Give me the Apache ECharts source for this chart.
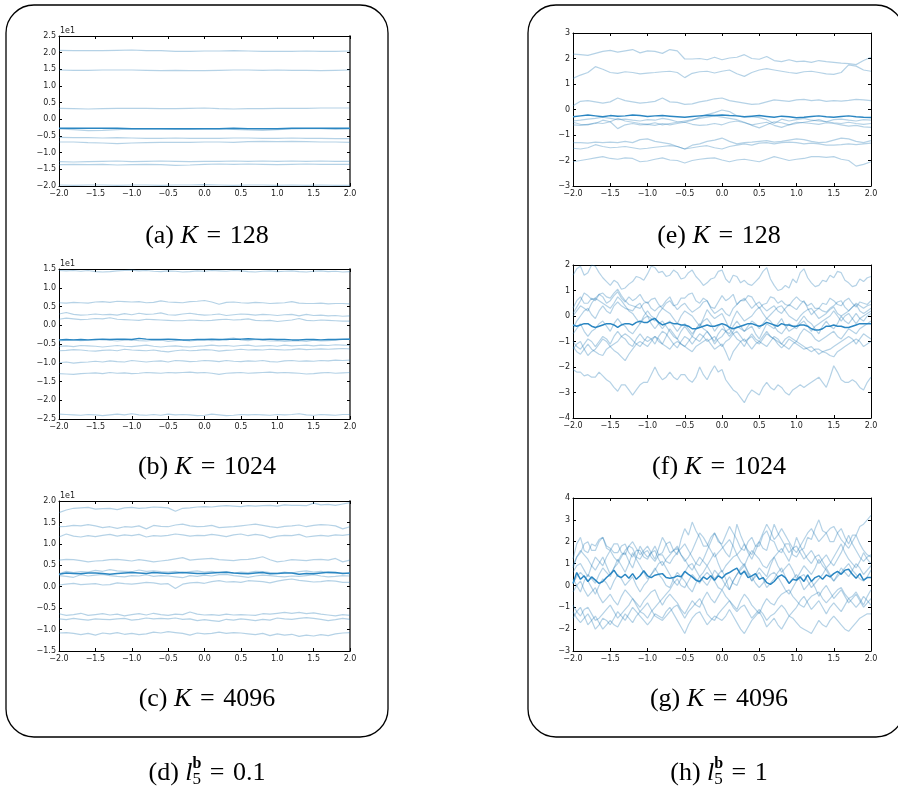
<!DOCTYPE html>
<html>
<head>
<meta charset="utf-8">
<script src="https://cdn.jsdelivr.net/npm/echarts@6/dist/echarts.min.js"></script>
<style>
html,body{margin:0;padding:0;background:#fff}
#main{width:898px;height:792px}
</style>
</head>
<body>
<div id="main"></div>
<script>
// x samples
var xCoarse = [-2.0,-1.8,-1.6,-1.4,-1.2,-1.0,-0.8,-0.6,-0.4,-0.2,0.0,0.2,0.4,0.6,0.8,1.0,1.2,1.4,1.6,1.8,2.0];
var xFine = [-2.0,-1.9,-1.8,-1.7,-1.6,-1.5,-1.4,-1.3,-1.2,-1.1,-1.0,-0.9,-0.8,-0.7,-0.6,-0.5,-0.4,-0.3,-0.2,-0.1,
  0.0,0.1,0.2,0.3,0.4,0.5,0.6,0.7,0.8,0.9,1.0,1.1,1.2,1.3,1.4,1.5,1.6,1.7,1.8,1.9,2.0];
var xDense = [-2.0,-1.95,-1.9,-1.85,-1.8,-1.75,-1.7,-1.65,-1.6,-1.55,-1.5,-1.45,-1.4,-1.35,-1.3,-1.25,-1.2,-1.15,-1.1,-1.05,
  -1.0,-0.95,-0.9,-0.85,-0.8,-0.75,-0.7,-0.65,-0.6,-0.55,-0.5,-0.45,-0.4,-0.35,-0.3,-0.25,-0.2,-0.15,-0.1,-0.05,
  0.0,0.05,0.1,0.15,0.2,0.25,0.3,0.35,0.4,0.45,0.5,0.55,0.6,0.65,0.7,0.75,0.8,0.85,0.9,0.95,
  1.0,1.05,1.1,1.15,1.2,1.25,1.3,1.35,1.4,1.45,1.5,1.55,1.6,1.65,1.7,1.75,1.8,1.85,1.9,1.95,2.0];

// (a) K = 128, l = 0.1   (values in real units, axis shows x1e1)
var aSamples = [
  [20.7,20.6,20.6,20.6,20.7,20.8,20.6,20.6,20.4,20.4,20.5,20.5,20.6,20.5,20.4,20.4,20.4,20.5,20.4,20.4,20.5],
  [14.8,14.7,14.7,14.8,14.8,14.8,14.7,14.6,14.7,14.6,14.6,14.7,14.8,14.8,14.7,14.8,14.7,14.7,14.6,14.7,14.8],
  [3.3,3.2,3.1,3.2,3.3,3.3,3.3,3.2,3.2,3.3,3.4,3.2,3.1,3.2,3.2,3.3,3.3,3.3,3.4,3.4,3.4],
  [-2.9,-3.1,-3.4,-3.3,-3.1,-2.9,-2.8,-2.9,-3.0,-3.0,-2.9,-2.8,-3.0,-3.2,-3.3,-3.1,-2.9,-2.8,-2.8,-3.0,-2.9],
  [-5.4,-5.5,-5.5,-5.6,-5.5,-5.6,-5.7,-5.7,-5.6,-5.7,-5.7,-5.7,-5.6,-5.6,-5.7,-5.7,-5.6,-5.7,-5.7,-5.8,-5.8],
  [-6.8,-6.8,-7.0,-7.1,-7.3,-7.1,-7.0,-6.9,-6.9,-6.9,-6.8,-6.8,-6.9,-6.7,-6.6,-6.7,-6.6,-6.7,-6.8,-6.8,-6.9],
  [-12.7,-12.8,-12.7,-12.6,-12.5,-12.7,-12.6,-12.5,-12.6,-12.7,-12.6,-12.6,-12.5,-12.6,-12.5,-12.6,-12.5,-12.6,-12.5,-12.6,-12.6],
  [-13.6,-13.5,-13.6,-13.5,-13.7,-13.6,-13.5,-13.6,-13.8,-13.7,-13.5,-13.4,-13.5,-13.4,-13.5,-13.6,-13.5,-13.4,-13.5,-13.5,-13.5],
  [-19.7,-19.8,-19.7,-19.7,-19.8,-19.7,-19.7,-19.8,-19.7,-19.7,-19.6,-19.7,-19.8,-19.7,-19.7,-19.8,-19.7,-19.8,-19.7,-19.8,-19.8]
];
var aMean = [-2.7,-2.7,-2.7,-2.7,-2.7,-2.8,-2.8,-2.8,-2.8,-2.8,-2.8,-2.8,-2.7,-2.8,-2.8,-2.8,-2.7,-2.7,-2.7,-2.7,-2.7];

// (b) K = 1024, l = 0.1
var bSamples = [
  [14.6,14.5,14.6,14.4,14.6,14.3,14.2,14.3,14.5,14.6,14.7,14.5,14.6,14.4,14.3,14.5,14.4,14.2,14.3,14.5,14.4,14.6,14.5,14.4,14.6,14.5,14.3,14.2,14.4,14.5,14.3,14.4,14.5,14.3,14.2,14.4,14.5,14.3,14.4,14.2,14.3],
  [6.0,5.9,6.1,6.0,5.9,6.2,6.3,6.1,6.4,6.3,6.2,6.3,6.0,6.1,6.5,6.2,6.1,6.0,6.3,6.4,6.6,6.2,5.6,6.1,6.2,6.0,5.9,6.1,6.0,5.8,5.9,6.0,6.3,5.9,5.8,5.8,5.9,5.7,5.8,5.8,5.7],
  [3.0,3.4,2.9,2.7,2.8,3.0,2.8,2.9,2.7,3.1,2.8,3.2,2.9,3.0,3.3,2.8,2.7,3.0,3.2,2.9,2.7,2.8,3.0,2.6,2.8,3.0,2.9,2.7,2.9,2.8,2.6,2.8,2.9,2.5,2.9,2.6,2.7,2.5,2.6,2.4,2.5],
  [1.6,1.9,1.7,1.5,1.6,1.8,1.7,2.0,1.6,1.5,1.4,1.3,1.6,1.5,1.4,1.3,1.2,1.2,1.4,1.3,1.2,1.3,1.5,1.6,1.4,1.5,1.7,1.3,1.2,1.3,1.0,1.2,1.4,1.8,1.3,1.2,1.4,1.3,1.2,1.1,1.1],
  [-4.2,-4.0,-3.9,-4.1,-4.0,-3.8,-3.9,-4.0,-4.2,-4.0,-3.9,-4.1,-4.2,-4.0,-3.9,-4.3,-4.1,-4.0,-4.2,-4.0,-3.9,-4.1,-4.0,-3.6,-3.4,-3.9,-4.1,-3.8,-4.0,-4.2,-4.1,-4.3,-4.2,-4.1,-4.3,-4.0,-4.2,-4.1,-4.0,-3.8,-3.6],
  [-5.6,-5.5,-5.7,-5.4,-5.5,-5.6,-5.8,-5.6,-5.4,-5.6,-5.7,-5.5,-5.3,-5.6,-5.8,-5.6,-5.5,-5.7,-5.8,-5.6,-5.5,-5.3,-5.5,-5.4,-5.6,-5.4,-5.3,-5.6,-5.5,-5.4,-5.6,-5.3,-5.5,-5.4,-5.3,-5.5,-5.3,-5.4,-5.2,-5.3,-5.4],
  [-6.8,-6.7,-6.5,-6.6,-6.8,-6.9,-6.7,-6.6,-6.8,-6.4,-6.6,-6.7,-6.8,-6.6,-6.9,-7.1,-6.8,-6.6,-6.8,-6.7,-6.5,-6.6,-6.9,-6.7,-6.6,-6.4,-6.6,-6.5,-6.6,-6.4,-6.5,-6.6,-6.5,-6.3,-6.5,-6.4,-6.3,-6.4,-6.3,-6.2,-6.3],
  [-10.0,-9.8,-10.1,-9.9,-9.8,-9.6,-9.8,-9.5,-9.7,-9.8,-9.4,-9.6,-9.8,-9.6,-9.5,-9.8,-9.4,-9.5,-9.7,-9.6,-9.4,-9.5,-9.7,-9.4,-9.6,-9.7,-9.5,-9.6,-9.4,-9.7,-9.8,-9.5,-9.4,-9.6,-9.5,-9.6,-9.4,-9.5,-9.3,-9.4,-9.3],
  [-12.9,-13.0,-13.1,-12.9,-12.8,-12.7,-12.9,-12.6,-12.8,-12.7,-12.9,-12.8,-12.6,-12.7,-12.8,-12.6,-12.7,-12.6,-12.5,-12.7,-12.6,-12.8,-13.1,-12.8,-12.7,-12.6,-12.8,-12.7,-12.6,-12.5,-12.7,-12.6,-12.7,-12.8,-13.0,-12.9,-12.7,-12.6,-12.8,-12.7,-12.6],
  [-23.7,-23.8,-23.9,-24.0,-23.8,-23.9,-24.1,-23.9,-23.7,-23.9,-23.6,-23.9,-24.0,-23.8,-24.0,-23.7,-23.9,-23.8,-23.9,-24.1,-24.0,-23.7,-23.9,-24.1,-24.0,-23.8,-23.9,-23.8,-23.9,-24.0,-23.8,-23.9,-23.8,-23.6,-23.9,-24.0,-23.8,-23.9,-24.0,-23.8,-23.8]
];
var bMean = [-3.9,-3.8,-3.9,-3.8,-3.9,-3.8,-3.7,-3.8,-3.7,-3.7,-3.8,-3.5,-3.7,-3.8,-3.8,-3.7,-3.8,-3.9,-3.9,-3.8,-3.8,-3.7,-3.8,-3.8,-3.7,-3.7,-3.6,-3.7,-3.8,-3.7,-3.8,-3.8,-3.9,-3.9,-3.8,-3.8,-3.9,-3.8,-3.8,-3.7,-3.7];

// (c) K = 4096, l = 0.1
var cSamples = [
  [17.3,17.9,18.3,18.4,18.5,18.1,18.2,18.3,18.0,18.4,18.5,18.3,18.4,18.6,18.5,18.4,17.6,18.3,18.4,18.6,18.7,18.6,18.8,18.9,18.8,18.7,18.9,18.8,18.9,19.0,18.8,19.1,19.0,19.0,18.9,19.5,19.1,19.2,19.0,19.3,19.6],
  [14.0,14.1,14.3,14.2,14.5,14.2,13.8,14.0,13.6,14.0,13.9,14.2,13.5,14.3,14.1,14.0,14.4,14.6,14.2,14.0,14.1,14.3,13.8,13.9,14.0,14.2,14.4,14.6,14.3,14.0,13.8,14.1,14.2,14.4,14.0,14.3,14.5,14.4,14.2,13.5,14.0],
  [11.6,12.3,11.8,11.6,11.9,11.7,12.0,12.2,11.8,12.1,11.9,12.2,11.6,11.9,11.8,12.0,12.3,12.1,11.8,12.0,11.9,12.2,12.0,11.7,12.1,12.3,11.9,12.2,12.0,11.4,11.8,12.0,11.9,12.2,11.6,11.8,12.0,11.8,12.1,12.0,12.2],
  [6.2,6.4,6.3,6.1,5.8,6.0,6.1,6.3,6.4,6.2,6.0,6.3,6.1,5.8,6.0,6.2,6.5,6.8,6.2,6.4,6.5,6.6,6.3,6.2,6.1,6.3,6.4,6.6,7.0,6.3,5.8,6.0,6.3,6.2,6.1,6.3,6.4,6.2,6.6,5.8,6.2],
  [3.0,3.6,3.3,3.5,3.4,3.8,3.6,4.0,3.7,3.6,3.5,3.9,3.6,3.7,3.5,3.4,3.6,3.3,3.5,3.7,3.4,3.6,3.3,3.5,3.2,3.4,3.3,3.6,3.5,3.3,3.1,3.4,3.2,3.5,3.7,3.4,3.6,3.3,3.1,3.2,3.0],
  [2.6,2.4,2.2,2.8,2.5,2.7,2.9,2.6,2.4,2.3,2.6,2.5,2.8,2.4,2.6,2.5,2.3,2.1,2.6,2.4,2.7,2.5,2.8,2.9,2.6,2.4,2.2,2.5,2.7,2.6,2.4,2.3,2.5,2.4,2.6,2.8,2.5,2.3,2.4,2.6,2.5],
  [0.4,0.6,0.8,0.5,0.6,0.7,0.4,0.5,0.9,0.7,0.6,0.8,1.0,0.9,0.6,0.7,-0.4,0.6,0.9,1.0,0.8,1.2,1.4,1.1,1.2,1.0,1.4,1.3,1.2,0.9,1.3,1.6,1.8,1.5,1.3,1.1,1.2,1.4,1.3,1.0,1.0],
  [-6.3,-6.7,-6.5,-6.2,-6.7,-6.5,-6.3,-6.6,-6.4,-6.8,-6.5,-6.3,-6.6,-6.2,-6.5,-6.7,-6.4,-6.5,-5.9,-6.4,-6.6,-6.5,-6.7,-6.4,-6.6,-6.5,-6.6,-6.7,-6.3,-6.4,-6.2,-6.0,-6.2,-6.0,-6.3,-6.1,-6.4,-6.6,-6.8,-6.5,-6.7],
  [-7.5,-7.7,-7.4,-7.6,-7.8,-7.5,-7.6,-7.7,-7.5,-7.4,-7.8,-7.6,-7.3,-7.5,-7.4,-7.5,-7.3,-7.6,-7.5,-7.9,-7.7,-7.9,-8.1,-7.6,-7.8,-7.5,-7.7,-7.9,-7.6,-7.8,-7.3,-7.5,-7.6,-7.4,-7.2,-7.4,-7.6,-7.9,-7.7,-7.4,-7.6],
  [-10.8,-10.7,-10.9,-11.2,-10.9,-11.3,-10.8,-11.0,-10.7,-11.1,-10.9,-11.2,-11.0,-10.6,-10.8,-10.5,-10.7,-10.9,-11.3,-10.8,-11.0,-10.9,-10.6,-10.9,-10.7,-10.8,-11.0,-11.2,-10.9,-11.4,-11.0,-11.3,-11.1,-11.6,-11.3,-11.5,-11.2,-11.4,-11.0,-10.8,-10.7]
];
var cMean = [2.9,3.2,3.1,3.0,3.2,3.2,3.1,2.9,3.1,3.2,3.3,3.2,3.1,3.3,3.2,3.1,3.2,3.3,3.2,3.1,3.1,3.2,3.3,3.4,3.2,3.1,3.0,3.2,3.3,3.0,3.1,3.2,3.2,2.9,3.1,3.0,3.2,3.4,3.3,3.1,3.2];

// (e) K = 128, l = 1
var eSamples = [
  [2.17,2.15,2.12,2.2,2.28,2.32,2.25,2.3,2.35,2.22,2.3,2.28,2.2,2.35,2.3,1.98,1.98,2.0,1.95,2.05,1.95,2.02,2.05,2.15,2.0,1.97,2.08,1.92,1.88,1.95,1.88,1.9,1.85,1.92,1.88,1.85,1.82,1.8,1.76,1.92,2.05],
  [1.22,1.35,1.45,1.68,1.58,1.45,1.42,1.48,1.45,1.4,1.43,1.45,1.48,1.5,1.45,1.25,1.42,1.48,1.5,1.43,1.5,1.55,1.4,1.3,1.45,1.55,1.6,1.55,1.5,1.45,1.42,1.48,1.5,1.45,1.4,1.38,1.45,1.75,1.7,1.55,1.5],
  [0.15,0.32,0.35,0.3,0.25,0.3,0.45,0.35,0.3,0.25,0.28,0.32,0.45,0.3,0.28,0.2,0.22,0.3,0.35,0.42,0.45,0.35,0.3,0.25,0.2,0.22,0.3,0.38,0.35,0.32,0.38,0.4,0.35,0.38,0.32,0.35,0.33,0.36,0.4,0.38,0.35],
  [-0.45,-0.42,-0.38,-0.35,-0.3,-0.35,-0.4,-0.38,-0.42,-0.45,-0.4,-0.42,-0.35,-0.4,-0.48,-0.5,-0.42,-0.3,-0.2,-0.12,-0.02,-0.08,-0.25,-0.3,-0.28,-0.32,-0.4,-0.55,-0.38,-0.45,-0.4,-0.35,-0.42,-0.45,-0.48,-0.4,-0.38,-0.42,-0.45,-0.4,-0.42],
  [-0.5,-0.58,-0.6,-0.52,-0.55,-0.48,-0.35,-0.45,-0.5,-0.55,-0.58,-0.52,-0.6,-0.55,-0.5,-0.45,-0.4,-0.35,-0.3,-0.25,-0.3,-0.35,-0.4,-0.5,-0.62,-0.72,-0.6,-0.48,-0.52,-0.6,-0.55,-0.5,-0.45,-0.4,-0.48,-0.52,-0.55,-0.5,-0.55,-0.58,-0.55],
  [-0.6,-0.62,-0.58,-0.55,-0.42,-0.48,-0.75,-0.6,-0.55,-0.6,-0.58,-0.62,-0.55,-0.6,-0.55,-0.5,-0.58,-0.62,-0.6,-0.55,-0.6,-0.5,-0.45,-0.52,-0.6,-0.55,-0.5,-0.62,-0.7,-0.6,-0.5,-0.52,-0.55,-0.58,-0.52,-0.55,-0.6,-0.65,-0.62,-0.68,-0.7],
  [-1.3,-1.3,-1.32,-1.28,-1.3,-1.28,-1.3,-1.25,-1.3,-1.18,-1.15,-1.25,-1.3,-1.35,-1.45,-1.55,-1.4,-1.35,-1.25,-1.2,-1.12,-1.25,-1.35,-1.3,-1.28,-1.25,-1.22,-1.28,-1.25,-1.2,-1.15,-1.18,-1.25,-1.3,-1.28,-1.2,-1.12,-1.15,-1.25,-1.3,-1.22],
  [-1.52,-1.55,-1.5,-1.38,-1.45,-1.5,-1.48,-1.45,-1.5,-1.55,-1.52,-1.48,-1.45,-1.42,-1.45,-1.55,-1.5,-1.45,-1.42,-1.5,-1.55,-1.45,-1.4,-1.35,-1.4,-1.32,-1.3,-1.35,-1.3,-1.28,-1.3,-1.35,-1.32,-1.35,-1.4,-1.4,-1.38,-1.35,-1.38,-1.35,-1.32],
  [-2.05,-2.0,-1.95,-1.9,-1.85,-1.92,-1.95,-1.9,-1.92,-2.05,-2.02,-1.95,-1.9,-1.98,-2.0,-2.1,-2.0,-1.95,-1.92,-1.9,-1.98,-2.05,-1.98,-1.95,-2.0,-2.05,-1.95,-1.85,-1.92,-2.0,-1.95,-1.92,-1.85,-1.85,-1.88,-1.85,-1.95,-2.0,-2.22,-2.15,-2.05]
];
var eMean = [-0.28,-0.25,-0.22,-0.25,-0.28,-0.24,-0.26,-0.25,-0.22,-0.24,-0.27,-0.25,-0.24,-0.26,-0.28,-0.3,-0.27,-0.25,-0.23,-0.24,-0.22,-0.24,-0.25,-0.28,-0.26,-0.24,-0.27,-0.3,-0.26,-0.28,-0.32,-0.3,-0.27,-0.25,-0.28,-0.3,-0.27,-0.25,-0.28,-0.3,-0.31];

// (f) K = 1024, l = 1
var fSamples = [
  [1.6,1.85,1.95,1.6,1.7,2.0,1.95,1.7,1.5,1.35, 1.2,1.4,1.3,1.05,1.1,1.25,1.35,1.55,1.5,1.4,
   1.65,1.95,1.9,1.7,1.75,1.55,1.6,1.8,1.7,1.45, 1.5,1.7,1.8,1.55,1.4,1.2,1.3,1.45,1.5,1.75,
   1.8,1.45,1.3,1.6,1.55,1.3,1.4,1.25,1.2,1.35, 1.5,1.75,1.9,1.45,1.2,1.0,1.05,1.2,1.1,1.45,
   1.3,1.7,1.85,1.5,1.3,1.15,1.2,1.4,1.35,1.6, 1.5,1.75,1.7,1.4,1.3,1.15,1.2,1.45,1.35,1.5, 1.55],
  [0.1,0.35,0.6,0.9,0.8,0.65,0.7,0.85,0.75,0.5, 0.6,0.8,0.95,0.7,0.55,0.75,0.6,0.7,0.85,0.6,
   0.5,0.65,0.7,0.45,0.3,0.5,0.6,0.4,0.45,0.7, 0.7,0.85,0.9,0.6,0.5,0.7,0.6,0.35,0.3,0.55,
   0.8,0.6,0.7,0.85,0.45,0.6,0.6,0.8,0.75,0.5, 0.3,0.45,0.5,0.75,0.7,0.5,0.6,0.45,0.4,0.6,
   0.75,0.6,0.55,0.4,0.5,0.3,0.3,0.5,0.45,0.7, 0.6,0.45,0.4,0.6,0.7,0.5,0.35,0.55,0.5,0.45, 0.6],
  [0.3,0.6,0.75,0.5,0.5,0.7,0.6,0.85,0.9,0.75, 0.7,0.9,1.05,0.8,0.6,0.45,0.4,0.35,0.3,0.5,
   0.55,0.3,0.2,0.35,0.4,0.6,0.75,0.45,0.25,0.4, 0.5,0.3,0.15,0.25,0.35,0.55,0.6,0.3,0.1,0.2,
   0.3,0.1,0.0,0.3,0.45,0.6,0.7,0.5,0.3,0.45, 0.55,0.35,0.2,0.3,0.4,0.2,0.1,0.3,0.45,0.35,
   0.25,0.45,0.6,0.3,0.05,0.2,0.3,0.2,0.15,0.3, 0.4,0.55,0.6,0.35,0.2,0.35,0.5,0.4,0.3,0.4, 0.45],
  [-0.5,-0.2,0.0,0.2,0.3,0.05,-0.1,0.2,0.4,0.2, 0.1,0.4,0.55,0.4,0.3,0.25,0.2,0.4,0.5,0.2,
   0.0,-0.1,-0.2,0.1,0.3,0.2,0.1,-0.1,-0.3,0.0, 0.2,0.1,0.0,-0.2,-0.4,-0.1,0.25,0.05,-0.1,0.0,
   0.1,-0.2,-0.5,-0.1,0.2,0.0,-0.2,-0.1,0.0,0.2, 0.35,0.1,-0.1,0.05,0.2,0.35,0.4,0.2,0.0,-0.1,
   -0.2,0.0,0.15,0.25,0.3,0.1,-0.1,0.0,0.1,0.25, 0.35,0.1,0.0,0.1,0.2,0.35,0.45,0.2,0.1,0.2, 0.3],
  [-0.7,-0.5,-0.3,-0.6,-0.8,-0.6,-0.5,-0.3,-0.2,-0.4, -0.6,-0.3,-0.1,-0.3,-0.4,-0.6,-0.7,-0.5,-0.3,-0.1,
   0.0,-0.3,-0.5,-0.3,-0.2,-0.4,-0.6,-0.8,-0.9,-0.6, -0.4,-0.6,-0.8,-0.5,-0.3,-0.5,-0.6,-0.8,-1.0,-0.7,
   -0.5,-0.6,-0.7,-0.4,-0.2,-0.4,-0.6,-0.5,-0.4,-0.7, -0.9,-0.6,-0.3,-0.4,-0.5,-0.3,-0.1,-0.4,-0.6,-0.5,
   -0.4,-0.2,0.0,-0.2,-0.3,-0.5,-0.7,-0.4,-0.2,-0.4, -0.5,-0.3,0.0,-0.2,-0.3,-0.1,0.1,-0.1,-0.2,0.0, 0.1],
  [-1.0,-1.2,-1.3,-1.1,-0.9,-1.0,-1.2,-1.0,-0.8,-0.9, -1.1,-0.8,-0.6,-0.8,-0.9,-1.1,-1.2,-0.9,-0.7,-0.9,
   -1.0,-0.9,-0.8,-1.0,-1.1,-0.8,-0.5,-0.7,-0.9,-1.1, -1.2,-1.0,-0.8,-0.9,-1.0,-0.8,-0.6,-0.8,-1.1,-0.9,
   -0.8,-0.6,-0.5,-0.7,-0.9,-1.0,-1.2,-0.9,-0.7,-0.9, -1.0,-0.8,-0.6,-0.8,-0.9,-1.0,-1.1,-0.9,-0.8,-0.9,
   -1.0,-0.7,-0.5,-0.6,-0.7,-0.9,-1.0,-0.9,-0.8,-0.7, -0.6,-0.8,-0.9,-0.7,-0.5,-0.6,-0.7,-0.5,-0.4,-0.3, -0.2],
  [-1.2,-1.4,-1.5,-1.3,-1.1,-1.3,-1.4,-1.5,-1.55,-1.3, -1.2,-1.35,-1.45,-1.6,-1.75,-1.5,-1.3,-1.1,-1.0,-1.1,
   -1.2,-1.0,-0.8,-0.9,-1.1,-1.2,-1.3,-1.1,-1.0,-1.1, -1.2,-1.3,-1.4,-1.2,-1.1,-1.0,-0.9,-1.1,-1.3,-1.2,
   -1.1,-1.4,-1.75,-1.4,-1.2,-1.0,-0.9,-1.1,-1.3,-1.1, -1.0,-1.1,-1.2,-1.0,-0.8,-0.9,-1.1,-1.2,-1.3,-1.1,
   -1.0,-1.1,-1.2,-1.3,-1.4,-1.3,-1.3,-1.4,-1.45,-1.55, -1.6,-1.4,-1.3,-1.2,-1.1,-1.0,-0.9,-1.0,-1.2,-1.1, -1.0],
  [-1.3,-1.1,-1.0,-1.3,-1.55,-1.4,-1.3,-1.1,-0.9,-1.0, -1.2,-1.1,-1.0,-0.8,-0.7,-0.8,-0.95,-1.1,-1.2,-1.0,
   -0.8,-0.9,-1.1,-0.8,-0.6,-0.7,-0.9,-1.1,-1.25,-1.0, -0.8,-0.9,-1.1,-0.9,-0.7,-0.8,-1.0,-0.9,-0.8,-1.0,
   -1.2,-1.0,-0.9,-0.7,-0.6,-0.8,-1.0,-0.9,-0.8,-1.0, -1.1,-0.9,-0.7,-0.8,-0.9,-1.1,-1.25,-1.1,-0.9,-1.0,
   -1.1,-1.2,-1.3,-1.25,-1.2,-1.35,-1.5,-1.4,-1.35,-1.3, -1.2,-1.1,-1.0,-0.9,-0.8,-0.9,-1.1,-0.9,-0.7,-0.8, -0.9],
  [0.0,0.2,0.4,0.3,0.2,0.5,0.7,0.6,0.5,0.4, 0.3,0.5,0.75,0.6,0.4,0.2,0.1,-0.1,-0.3,0.0,
   0.2,0.0,-0.1,-0.3,-0.5,-0.3,-0.2,-0.4,-0.6,-0.4, -0.3,-0.5,-0.7,-0.5,-0.4,-0.2,-0.1,-0.3,-0.6,-0.4,
   -0.3,-0.6,-0.8,-0.6,-0.4,-0.5,-0.6,-0.4,-0.2,-0.3, -0.5,-0.3,-0.1,-0.2,-0.4,-0.6,-0.7,-0.5,-0.3,-0.4,
   -0.5,-0.3,-0.2,-0.4,-0.6,-0.4,-0.3,-0.2,-0.1,0.0, 0.2,0.0,-0.2,0.0,0.1,-0.1,-0.3,-0.1,0.0,0.1, 0.2],
  [-2.1,-2.2,-2.2,-2.35,-2.3,-2.4,-2.4,-2.2,-2.35,-2.5, -2.6,-2.8,-2.95,-2.7,-2.7,-2.9,-3.1,-2.9,-2.7,-2.6,
   -2.6,-2.3,-2.0,-2.3,-2.5,-2.4,-2.2,-2.4,-2.5,-2.3, -2.3,-2.5,-2.6,-2.4,-2.0,-2.3,-2.5,-2.2,-1.95,-2.2,
   -2.1,-2.5,-2.7,-2.9,-3.0,-3.2,-3.4,-3.1,-2.9,-3.0, -3.1,-2.8,-2.6,-2.8,-2.9,-2.7,-2.8,-3.0,-3.1,-2.9,
   -2.8,-2.7,-2.8,-2.7,-2.6,-2.5,-2.4,-2.6,-2.8,-2.4, -1.95,-2.2,-2.5,-2.6,-2.6,-2.5,-2.6,-2.8,-2.9,-2.6, -2.4]
];
var fMean = [-0.35,-0.4,-0.35,-0.3,-0.3,-0.4,-0.45,-0.4,-0.35,-0.3, -0.3,-0.35,-0.45,-0.35,-0.3,-0.3,-0.35,-0.25,-0.2,-0.25,
  -0.25,-0.15,-0.1,-0.25,-0.35,-0.3,-0.25,-0.3,-0.3,-0.35, -0.35,-0.4,-0.5,-0.5,-0.45,-0.4,-0.35,-0.4,-0.4,-0.35,
  -0.3,-0.35,-0.45,-0.5,-0.45,-0.4,-0.35,-0.3,-0.3,-0.35, -0.4,-0.35,-0.25,-0.3,-0.35,-0.4,-0.3,-0.35,-0.35,-0.4,
  -0.4,-0.35,-0.35,-0.4,-0.5,-0.55,-0.55,-0.5,-0.4,-0.4, -0.35,-0.4,-0.4,-0.45,-0.45,-0.4,-0.35,-0.3,-0.3,-0.3, -0.3];

// (g) K = 4096, l = 1
var gSamples = [
  [1.2,1.9,2.2,1.6,1.5,1.9,1.8,2.1,2.2,1.7, 1.6,1.9,1.9,1.5,1.4,1.8,1.7,1.3,1.2,1.5,
   1.6,1.3,1.1,1.4,1.5,1.9,2.0,1.6,1.4,2.1, 2.6,2.3,2.9,2.5,2.2,1.8,1.8,2.2,2.4,2.0,
   1.9,2.3,2.7,2.4,2.1,1.7,1.6,2.0,2.2,1.8, 1.8,2.3,2.5,2.1,2.0,1.6,1.5,1.9,1.9,1.4,
   1.3,1.6,1.7,2.2,2.1,2.6,3.0,2.5,2.4,2.0, 2.0,2.4,2.6,2.2,1.9,2.3,2.3,2.7,2.8,3.0, 3.2],
  [0.8,1.3,1.5,1.9,2.0,1.6,1.6,2.0,2.2,1.8, 1.7,1.5,1.5,1.8,1.9,1.5,1.3,1.6,1.6,1.3,
   1.2,1.5,1.8,1.4,1.4,1.1,1.0,1.3,1.5,1.7, 1.9,1.6,1.3,1.0,0.9,1.2,1.6,2.0,2.4,2.1,
   1.8,1.5,1.3,1.9,2.8,2.3,1.9,1.6,1.4,1.8, 2.0,1.7,1.6,2.2,2.8,2.4,2.1,1.8,1.5,1.7,
   1.8,1.5,1.2,1.4,1.6,1.3,1.0,1.2,1.4,1.1, 0.9,1.2,1.5,1.9,2.3,1.9,1.6,1.3,1.1,1.3, 1.4],
  [0.6,0.9,1.0,0.7,0.4,0.9,1.3,1.1,0.9,1.3, 1.6,1.3,1.1,1.4,1.5,1.1,0.8,1.3,1.8,1.5,
   1.3,1.5,1.6,1.2,0.9,1.2,1.4,1.6,1.7,1.4, 1.2,0.9,0.7,1.0,1.3,1.1,0.9,1.2,1.5,1.0,
   0.6,0.9,1.1,1.3,1.4,1.1,0.9,1.3,1.6,1.4, 1.2,0.9,0.8,1.1,1.3,1.5,1.7,1.4,1.1,1.6,
   2.2,1.8,1.5,1.2,1.0,1.3,1.4,1.1,0.8,1.0, 1.3,1.6,1.9,1.5,1.2,1.0,0.8,1.1,1.5,1.2, 1.0],
  [0.3,0.0,-0.3,0.2,0.5,0.3,0.1,0.5,0.8,0.6, 0.4,0.8,1.2,0.9,0.6,1.0,1.5,1.2,0.9,0.6,
   0.3,0.5,0.7,1.0,1.1,0.8,0.5,0.2,0.0,0.3, 0.6,0.9,1.0,0.7,0.4,0.6,0.9,0.6,0.3,0.5,
   0.7,0.3,-0.2,0.2,0.5,0.8,1.0,0.6,0.2,0.5, 0.8,0.6,0.4,0.9,1.3,0.9,0.6,0.8,1.0,0.7,
   0.3,0.6,0.9,0.7,0.5,0.8,1.2,0.9,0.7,0.4, 0.2,0.5,0.8,0.6,0.4,0.7,1.0,0.8,0.5,0.7, 0.9],
  [0.1,0.4,0.6,0.4,0.2,-0.1,-0.4,0.0,0.3,0.1, -0.2,0.2,0.5,0.3,0.0,0.2,0.4,0.0,-0.3,0.0,
   0.2,0.5,0.8,0.5,0.3,0.0,-0.1,0.3,0.6,0.4, 0.2,-0.1,-0.3,0.1,0.4,0.2,0.0,0.3,0.7,0.5,
   0.3,0.0,-0.2,0.2,0.5,0.7,0.9,0.6,0.4,0.1, -0.1,0.1,0.3,0.5,0.6,0.4,0.1,-0.2,-0.4,-0.1,
   0.2,0.4,0.5,0.2,-0.1,0.1,0.3,0.5,0.8,0.5, 0.2,0.4,0.6,0.8,1.0,0.7,0.5,0.3,0.2,0.4, 0.7],
  [-0.3,0.0,0.2,-0.2,-0.5,-0.3,-0.1,-0.5,-0.8,-0.6, -0.4,-0.7,-0.9,-0.5,-0.2,-0.4,-0.6,-0.8,-1.0,-0.7,
   -0.5,-0.3,-0.2,-0.6,-0.9,-0.6,-0.4,-0.6,-0.8,-1.1, -1.3,-1.0,-0.7,-0.9,-1.0,-0.6,-0.3,-0.6,-0.8,-0.5,
   -0.2,-0.5,-0.7,-0.9,-1.1,-0.7,-0.4,-0.6,-0.9,-1.1, -1.3,-0.9,-0.6,-0.8,-0.9,-0.6,-0.4,-0.3,-0.2,-0.5,
   -0.7,-0.9,-1.0,-0.7,-0.5,-0.4,-0.3,-0.6,-0.8,-0.6, -0.4,-0.2,-0.1,-0.4,-0.6,-0.5,-0.3,-0.6,-0.9,-0.5, -0.2],
  [-0.9,-1.2,-1.4,-1.1,-1.0,-1.3,-1.6,-1.5,-1.3,-1.1, -0.9,-1.2,-1.5,-1.3,-1.1,-0.9,-0.6,-0.9,-1.2,-1.0,
   -0.8,-1.1,-1.4,-1.5,-1.6,-1.4,-1.2,-1.0,-0.9,-1.2, -1.5,-1.2,-1.0,-0.8,-0.6,-0.9,-1.3,-1.5,-1.6,-1.3,
   -1.1,-0.9,-0.7,-1.0,-1.2,-1.0,-0.9,-1.2,-1.5,-1.3, -1.1,-1.3,-1.6,-1.4,-1.3,-1.1,-0.9,-1.1,-1.4,-1.2,
   -1.0,-0.7,-0.5,-0.8,-1.1,-0.9,-0.7,-1.0,-1.3,-1.0, -0.8,-1.0,-1.2,-0.9,-0.6,-0.8,-1.0,-0.8,-0.5,-0.7, -0.9],
  [-1.2,-1.5,-1.7,-1.5,-1.3,-1.6,-2.0,-1.8,-1.5,-1.6, -1.8,-1.5,-1.2,-1.4,-1.6,-1.3,-1.0,-1.2,-1.4,-1.6,
   -1.8,-1.6,-1.3,-1.4,-1.5,-1.2,-1.0,-1.3,-1.6,-1.9, -2.2,-1.8,-1.5,-1.3,-1.2,-1.5,-1.8,-1.6,-1.4,-1.5,
   -1.6,-1.4,-1.1,-1.4,-1.7,-2.0,-2.2,-1.9,-1.6,-1.4, -1.2,-1.5,-1.9,-1.7,-1.5,-1.8,-2.0,-1.7,-1.4,-1.5,
   -1.7,-1.9,-2.0,-2.1,-2.2,-1.9,-1.6,-1.8,-1.9,-1.6, -1.4,-1.6,-1.8,-2.0,-2.1,-1.9,-1.7,-1.5,-1.4,-1.3, -1.3],
  [-1.5,-1.2,-1.0,-1.4,-1.8,-1.6,-1.4,-1.7,-2.0,-1.8, -1.6,-1.8,-1.9,-1.6,-1.3,-1.5,-1.7,-1.4,-1.2,-1.3,
   -1.5,-1.2,-1.0,-0.8,-0.6,-0.4,-0.2,0.1,0.3,0.0, -0.1,0.2,0.5,0.3,0.1,0.4,0.6,0.4,0.2,-0.1,
   -0.2,0.1,0.4,0.1,0.0,0.4,0.7,0.5,0.2,0.4, 0.6,0.3,-0.1,0.1,0.3,0.6,0.8,0.4,0.1,0.3,
   0.5,0.2,-0.2,0.0,0.2,-0.1,-0.5,-0.2,0.0,-0.3, -0.6,-0.4,-0.2,-0.5,-0.8,-0.6,-0.4,-0.7,-1.0,-0.8, -0.6],
  [0.9,1.3,1.6,1.4,1.2,0.9,0.7,1.0,1.3,0.9, 0.5,0.8,1.0,1.3,1.6,1.8,2.0,1.7,1.4,1.6,
   1.8,1.5,1.2,1.7,2.2,1.9,1.5,1.6,1.8,1.4, 1.1,1.3,1.6,2.0,2.4,2.2,1.9,1.6,1.3,1.5,
   1.7,1.9,2.1,1.8,1.4,1.6,1.9,1.5,1.2,1.6, 2.0,2.4,2.8,2.5,2.1,2.3,2.6,2.3,2.0,1.7,
   1.5,1.8,2.1,2.4,2.6,2.3,2.0,2.2,2.4,2.6, 2.7,2.4,2.1,1.9,1.7,2.0,2.3,1.9,1.6,1.4, 1.3]
];
var gMean = [0.09,0.59,0.28,0.44,0.18,0.39,0.24,0.09,0.18,0.36, 0.51,0.70,0.44,0.36,0.51,0.33,0.54,0.28,0.44,0.67,
  0.44,0.36,0.47,0.51,0.54,0.36,0.33,0.36,0.44,0.39, 0.64,0.51,0.39,0.24,0.18,0.39,0.28,0.44,0.24,0.44,
  0.33,0.51,0.59,0.70,0.79,0.51,0.64,0.36,0.44,0.54, 0.28,0.36,0.13,0.05,0.18,0.39,0.48,0.36,0.09,0.28,
  0.24,0.39,0.18,0.48,0.18,0.36,0.44,0.28,0.48,0.39, 0.54,0.64,0.51,0.70,0.74,0.51,0.33,0.54,0.24,0.36, 0.36];

var myChart = echarts.init(document.getElementById('main'));

var LIGHT = '#1f77b4';
var MEAN = '#2a86c2';
var tickFont = 'DejaVu Sans';
var serif = '"Liberation Serif", "DejaVu Serif", serif';

function signed(v, d) {
  var s = Math.abs(v).toFixed(d);
  return (v < 0 && Math.abs(v) > 1e-9 ? '\u2212' : '') + s;
}

// panels: grid box, y range, scaled (1e1) or not
var panels = [
  {box: [59, 36, 291, 150], y: [-20, 25, 5], scaled: true, xs: xCoarse, lines: aSamples, mean: aMean},
  {box: [59, 269, 291, 150], y: [-25, 15, 5], scaled: true, xs: xFine, lines: bSamples, mean: bMean},
  {box: [59, 501, 291, 150], y: [-15, 20, 5], scaled: true, xs: xFine, lines: cSamples, mean: cMean},
  {box: [573, 33, 298, 153], y: [-3, 3, 1], scaled: false, xs: xFine, lines: eSamples, mean: eMean},
  {box: [573, 265, 298, 153], y: [-4, 2, 1], scaled: false, xs: xDense, lines: fSamples, mean: fMean},
  {box: [573, 498, 298, 153], y: [-3, 4, 1], scaled: false, xs: xDense, lines: gSamples, mean: gMean}
];

var grids = [], xAxes = [], yAxes = [], series = [], graphics = [];

panels.forEach(function (p, gi) {
  grids.push({left: p.box[0], top: p.box[1], width: p.box[2], height: p.box[3], containLabel: false});
  var tick = {show: true, inside: true, length: 3, lineStyle: {color: '#000', width: 1}};
  var line = {show: true, onZero: false, lineStyle: {color: '#000', width: 1}};
  // bottom x axis with labels, top x axis only for spine and ticks
  xAxes.push({
    type: 'value', gridIndex: gi, position: 'bottom', min: -2, max: 2, interval: 0.5,
    axisLine: line, axisTick: tick, splitLine: {show: false},
    axisLabel: {show: true, margin: 4, fontSize: 8, fontFamily: tickFont, color: '#222',
      showMinLabel: true, showMaxLabel: true,
      formatter: function (v) { return signed(v, 1); }}
  });
  xAxes.push({
    type: 'value', gridIndex: gi, position: 'top', min: -2, max: 2, interval: 0.5,
    axisLine: line, axisTick: tick, splitLine: {show: false}, axisLabel: {show: false}
  });
  yAxes.push({
    type: 'value', gridIndex: gi, position: 'left', min: p.y[0], max: p.y[1], interval: p.y[2],
    axisLine: line, axisTick: tick, splitLine: {show: false},
    axisLabel: {show: true, margin: 3, fontSize: 8, fontFamily: tickFont, color: '#222',
      showMinLabel: true, showMaxLabel: true,
      formatter: p.scaled ? function (v) { return signed(v / 10, 1); } : function (v) { return signed(v, 0); }}
  });
  yAxes.push({
    type: 'value', gridIndex: gi, position: 'right', min: p.y[0], max: p.y[1], interval: p.y[2],
    axisLine: p.scaled ? {show: true, onZero: false, lineStyle: {color: '#666', width: 2}} : line,
    axisTick: tick, splitLine: {show: false}, axisLabel: {show: false}
  });

  p.lines.forEach(function (ys) {
    series.push({
      type: 'line', xAxisIndex: gi * 2, yAxisIndex: gi * 2, silent: true,
      showSymbol: false, symbol: 'none', z: 2,
      lineStyle: {color: LIGHT, opacity: 0.33, width: 1.2},
      data: p.xs.map(function (x, i) { return [x, ys[i]]; })
    });
  });
  series.push({
    type: 'line', xAxisIndex: gi * 2, yAxisIndex: gi * 2, silent: true,
    showSymbol: false, symbol: 'none', z: 3,
    lineStyle: {color: MEAN, width: 1.5},
    data: p.xs.map(function (x, i) { return [x, p.mean[i]]; })
  });

  if (p.scaled) {
    graphics.push({type: 'text', x: p.box[0] + 1, y: p.box[1] - 1,
      style: {text: '1e1', font: '8px "DejaVu Sans"', fill: '#222', textAlign: 'left', textVerticalAlign: 'bottom'}});
  }
});

// rounded frames around each column
graphics.push({type: 'rect', shape: {x: 6, y: 5, width: 382, height: 732, r: 28},
  style: {fill: 'none', stroke: '#000', lineWidth: 1.3}});
graphics.push({type: 'rect', shape: {x: 528, y: 5, width: 376, height: 732, r: 28},
  style: {fill: 'none', stroke: '#000', lineWidth: 1.3}});

// captions, laid out piece by piece so that sub/superscripts can stack
var measure = document.createElement('canvas').getContext('2d');
var F = '26px ' + serif, FI = 'italic 26px ' + serif;
function caption(cx, cy, parts) {
  var total = 0;
  parts.forEach(function (pt) {
    measure.font = pt.f || F;
    pt.w = measure.measureText(pt.t).width;
    if (!pt.stack) total += pt.w;
  });
  var x = cx - total / 2;
  parts.forEach(function (pt) {
    graphics.push({type: 'text', x: x, y: cy + (pt.dy || 0),
      style: {text: pt.t, font: pt.f || F, fill: '#000', textAlign: 'left', textVerticalAlign: 'middle'}});
    if (!pt.stack) x += pt.w;
  });
}
var EQ = '\u2004=\u2004';
caption(207, 236, [{t: '(a) '}, {t: 'K', f: FI}, {t: EQ + '128'}]);
caption(207, 467, [{t: '(b) '}, {t: 'K', f: FI}, {t: EQ + '1024'}]);
caption(207, 699, [{t: '(c) '}, {t: 'K', f: FI}, {t: EQ + '4096'}]);
caption(719, 236, [{t: '(e) '}, {t: 'K', f: FI}, {t: EQ + '128'}]);
caption(719, 467, [{t: '(f) '}, {t: 'K', f: FI}, {t: EQ + '1024'}]);
caption(719, 699, [{t: '(g) '}, {t: 'K', f: FI}, {t: EQ + '4096'}]);
var FS = 'bold 16px ' + serif, FN = '17px ' + serif;
caption(207, 773, [{t: '(d) '}, {t: 'l', f: FI}, {t: 'b', f: FS, dy: -9, stack: true}, {t: '5', f: FN, dy: 7}, {t: EQ + '0.1'}]);
caption(719, 773, [{t: '(h) '}, {t: 'l', f: FI}, {t: 'b', f: FS, dy: -9, stack: true}, {t: '5', f: FN, dy: 7}, {t: EQ + '1'}]);

var option = {
  animation: false,
  backgroundColor: '#fff',
  textStyle: {fontFamily: tickFont},
  grid: grids,
  xAxis: xAxes,
  yAxis: yAxes,
  series: series,
  graphic: graphics
};

myChart.setOption(option);

window.addEventListener('resize', function () {
  myChart.resize();
});
</script>
</body>
</html>
